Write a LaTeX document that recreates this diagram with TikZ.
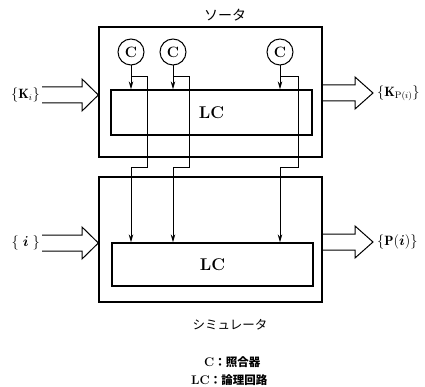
\documentclass[tikz,border=0pt]{standalone}
\usepackage{bm}
\usepackage{fontspec}
\newfontfamily\jp{Noto Sans CJK JP}
\usetikzlibrary{arrows.meta,calc}
\begin{document}
\begin{tikzpicture}[x=1pt,y=-1pt,
  frame/.style={draw,line width=1.3pt,inner sep=0pt},
  lcbox/.style={frame,minimum width=201pt,font=\fontsize{17}{17}\selectfont\bfseries},
  cmp/.style={draw,circle,line width=1pt,minimum size=26pt,inner sep=0pt,font=\fontsize{15}{15}\selectfont\bfseries},
  wire/.style={line width=1pt},
  tipwire/.style={wire,-{Stealth[length=8pt,width=4.5pt]}},
  fat/.style={draw,line width=1pt,line join=miter},
  lbl/.style={font=\fontsize{13.5}{16}\selectfont,inner sep=0pt},
  jptext/.style={inner sep=0pt,font=\jp\fontsize{#1}{#1}\selectfont}]
\path[use as bounding box] (0,0) rectangle (425,387);

% boxes
\node[frame,minimum width=223pt,minimum height=130pt] (S) at (210.5,92) {};
\node[lcbox,minimum height=45pt] (L1) at (211.5,112.5) {LC};
\node[frame,minimum width=223pt,minimum height=125pt] (M) at (210.5,239.5) {};
\node[lcbox,minimum height=43pt] (L2) at (212.5,264.5) {LC};

% comparators
\node[cmp] (c1) at (131,52) {C};
\node[cmp] (c2) at (173,52) {C};
\node[cmp] (c3) at (280,52) {C};

% titles and legend
\node[jptext=14] (tS) at (225,15) {ソータ};
\node[jptext=12.5] (tM) at (230,325) {シミュレータ};
\node[inner sep=0pt,anchor=west] (lg1) at (204,362) {\fontsize{12.5}{13}\selectfont\bfseries C{\jp\fontsize{11.5}{11.5}\selectfont ：照合器}};
\node[inner sep=0pt,anchor=west] (lg2) at (191,380) {\fontsize{12.5}{13}\selectfont\bfseries LC{\jp\fontsize{11.5}{11.5}\selectfont ：論理回路}};

% wires
\foreach \c/\d in {c1/16,c2/16,c3/18}{
  \draw[tipwire] (\c) -- (\c |- L1.north);
  \path (\c.south) ++(0,11) coordinate (j\c);
  \draw[tipwire] (j\c) -- ++(\d,0) -- ++(0,91) -- ++(-\d,0) -- (j\c |- L2.north);
}

% big input/output arrows
\coordinate (inA) at (S.west |- 0,95);
\draw[fat] (42,87) -- (82,87) -- (82,79) -- (inA) -- (82,111) -- (82,103) -- (42,103);
\node[lbl,anchor=east] (Ki) at (40,95) {$\{\mathbf{K}_i\}$};

\coordinate (outA) at (S.east |- 0,85);
\coordinate (outB) at (S.east |- 0,101);
\draw[fat] (outA) -- (355,85) -- (355,77) -- (373,93) -- (355,109) -- (355,101) -- (outB);
\node[lbl,anchor=west] (Kp) at (377,93) {$\{\mathbf{K}_{\mathrm{P}(i)}\}$};

\coordinate (inB) at (M.west |- 0,243);
\draw[fat] (42,235) -- (82,235) -- (82,227) -- (inB) -- (82,259) -- (82,251) -- (42,251);
\node[lbl,anchor=east] (ii) at (40,243) {$\{\;\bm{i}\;\}$};

\coordinate (outC) at (M.east |- 0,234);
\coordinate (outD) at (M.east |- 0,250);
\draw[fat] (outC) -- (355,234) -- (355,226) -- (373,242) -- (355,258) -- (355,250) -- (outD);
\node[lbl,anchor=west] (Pi) at (377,242) {$\{\mathbf{P}(\bm{i})\}$};
\end{tikzpicture}
\end{document}
